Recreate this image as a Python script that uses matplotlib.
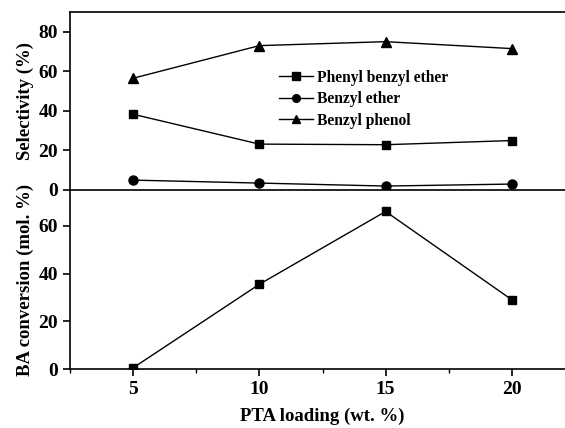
import matplotlib
matplotlib.use("Agg")
import matplotlib.pyplot as plt
from matplotlib.ticker import MultipleLocator

plt.rcParams['font.family'] = ['Liberation Serif', 'DejaVu Serif']
plt.rcParams['font.weight'] = 'bold'

loading = [5, 10, 15, 20]
phenyl_benzyl_ether = [38.3, 23.2, 22.9, 25.0]
benzyl_ether = [5.0, 3.5, 2.0, 3.0]
benzyl_phenol = [56.5, 73.0, 75.0, 71.5]
ba_conversion = [0.5, 35.5, 66.0, 29.0]

W, H = 565, 428
fig = plt.figure(figsize=(W / 100, H / 100), dpi=100)

x0 = 70 / W
xw = 505 / W
ax1 = fig.add_axes([x0, 1 - 190 / H, xw, (190 - 12) / H])
ax2 = fig.add_axes([x0, 1 - 369 / H, xw, (369 - 190) / H])

ms = dict(color='black', lw=1.0)
ax1.plot(loading, phenyl_benzyl_ether, marker='s', markersize=6, label='Phenyl benzyl ether', **ms)
ax1.plot(loading, benzyl_ether, marker='o', markersize=6.5, label='Benzyl ether', **ms)
ax1.plot(loading, benzyl_phenol, marker='^', markersize=7.5, label='Benzyl phenol', **ms)
ax2.plot(loading, ba_conversion, marker='s', markersize=6, **ms)

for ax in (ax1, ax2):
    ax.set_xlim(2.5, 22.5)
    ax.spines['right'].set_visible(False)
    for s in ax.spines.values():
        s.set_linewidth(1.2)
    ax.tick_params(direction='out', width=1.2, length=5, labelsize=14)
    ax.tick_params(which='minor', direction='out', width=1.0, length=3)
    for lab in ax.get_xticklabels() + ax.get_yticklabels():
        lab.set_fontweight('bold')

ax1.set_ylim(0, 90)
ax1.set_yticks([0, 20, 40, 60, 80])
ax1.tick_params(axis='x', bottom=False, labelbottom=False)
ax1.spines['bottom'].set_visible(False)

ax2.set_ylim(0, 75)
ax2.set_yticks([0, 20, 40, 60])
ax2.set_xticks(loading)
ax2.xaxis.set_minor_locator(MultipleLocator(2.5))

ax1.set_ylabel('Selectivity (%)', fontsize=13.5, fontweight='bold')
ax2.set_ylabel('BA conversion (mol. %)', fontsize=13.5, fontweight='bold')
ax1.yaxis.set_label_coords(-0.072, 0.5)
ax2.yaxis.set_label_coords(-0.072, 0.5)
ax2.set_xlabel('PTA loading (wt. %)', fontsize=13.5, fontweight='bold', labelpad=7)

leg = ax1.legend(loc='upper left', bbox_to_anchor=(0.402, 0.71), frameon=False,
                 fontsize=11.2, handlelength=2.2, handletextpad=0.2, labelspacing=0.35,
                 borderaxespad=0, markerscale=0.85)
for t in leg.get_texts():
    t.set_fontweight('bold')

fig.savefig('out.png', dpi=100)
